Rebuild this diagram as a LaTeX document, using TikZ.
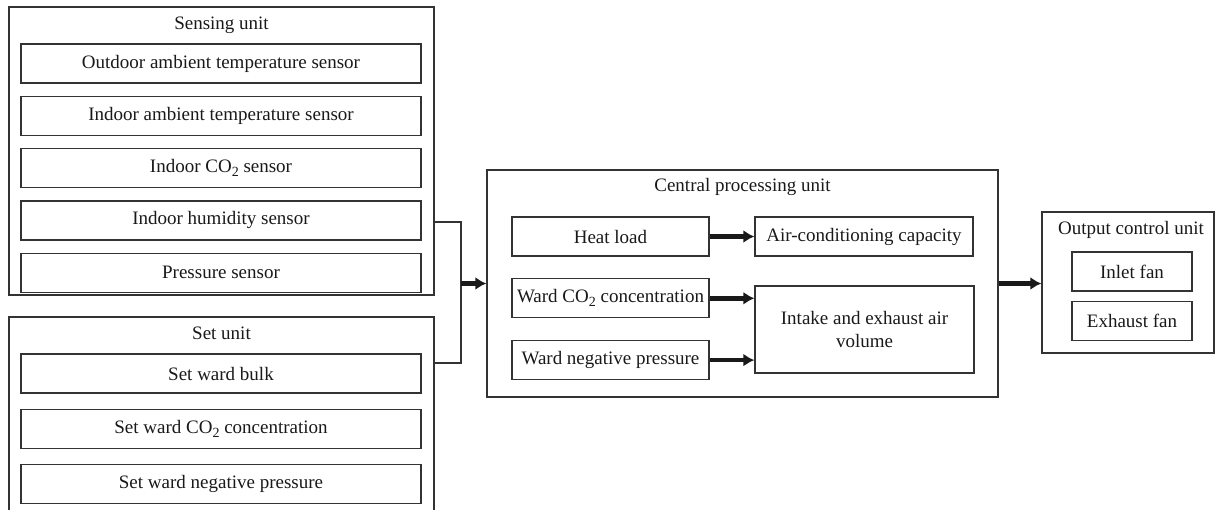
\documentclass[tikz,border=0pt]{standalone}
\usepackage{fontspec}
\setmainfont{Liberation Serif}
\usetikzlibrary{positioning, arrows.meta}
\newcommand{\cotwo}{CO\raisebox{-0.45ex}{\scriptsize 2}}

\begin{document}
\begin{tikzpicture}[x=0.5pt, y=0.5pt, font=\fontsize{9.5}{11.5}\selectfont, text=black!90]
\tikzstyle{unit}=[rectangle, draw=black!80, line width=0.65pt, inner sep=0pt]
\tikzstyle{main}=[rectangle, draw=black!80, line width=0.65pt, minimum height=19.5pt, inner sep=2pt]
\tikzstyle{connect}=[draw=black!90, -{Latex[length=5.5pt, width=6.5pt]}, line width=2.3pt]
\tikzstyle{wire}=[draw=black!80, line width=0.55pt]
\useasboundingbox (0,0) rectangle (1215,-509);

% sensing unit
\node[unit, minimum width=212.5pt, minimum height=144pt] (sense) at (221.5,-151) {};
\node (sensetitle) at (221.5,-25) {Sensing unit};
\node[main, minimum width=200pt] (outtemp) at (221,-63.5) {Outdoor ambient temperature sensor};
\node[main, minimum width=200pt] (intemp) [below=6pt of outtemp] {Indoor ambient temperature sensor};
\node[main, minimum width=200pt] (inco2) [below=6pt of intemp] {Indoor \cotwo{} sensor};
\node[main, minimum width=200pt] (inhum) [below=6pt of inco2] {Indoor humidity sensor};
\node[main, minimum width=200pt] (press) [below=6pt of inhum] {Pressure sensor};

% set unit
\node[unit, minimum width=212.5pt, minimum height=106.5pt] (set) at (221.5,-423.5) {};
\node (settitle) at (221.5,-333) {Set unit};
\node[main, minimum width=200pt] (bulk) at (221,-373.5) {Set ward bulk};
\node[main, minimum width=200pt] (setco2) [below=7.5pt of bulk] {Set ward \cotwo{} concentration};
\node[main, minimum width=200pt] (setneg) [below=7.5pt of setco2] {Set ward negative pressure};

% central processing unit
\node[unit, minimum width=255.5pt, minimum height=113.5pt] (cpu) at (742.5,-283.5) {};
\node (cputitle) at (742.5,-187) {Central processing unit};
\node[main, minimum width=98.5pt] (heat) at (610.5,-236.5) {Heat load};
\node[main, minimum width=98.5pt] (wardco2) [below=10.75pt of heat] {Ward \cotwo{} concentration};
\node[main, minimum width=98.5pt] (wardneg) [below=10.75pt of wardco2] {Ward negative pressure};
\node[main, minimum width=109pt] (aircon) at (864,-236.5) {Air-conditioning capacity};
\node[main, minimum width=109.5pt, minimum height=43.5pt, align=center] (intake) at (864.5,-329.5) {Intake and exhaust air\\volume};

% output control unit
\node[unit, minimum width=86pt, minimum height=70.5pt] (output) at (1128,-282.5) {};
\node (outtitle) at (1131,-230) {Output control unit};
\node[main, minimum width=60pt] (inlet) at (1132,-271.5) {Inlet fan};
\node[main, minimum width=60pt] (exhaust) [below=4.5pt of inlet] {Exhaust fan};

\coordinate (jtop) at (461,-222);
\coordinate (jbot) at (461,-363);
\coordinate (jmid) at (461,-283.5);
\path[wire] (sense.east |- jtop) -- (jtop) -- (jbot) -- (set.east |- jbot);
\path
    (jmid) edge [connect] (cpu.west)
    (heat.east) edge [connect] (aircon.west)
    (wardco2.east) edge [connect] (wardco2.east -| intake.west)
    (wardneg.east) edge [connect] (wardneg.east -| intake.west)
    (cpu.east) edge [connect] (cpu.east -| output.west)
;
\end{tikzpicture}
\end{document}
